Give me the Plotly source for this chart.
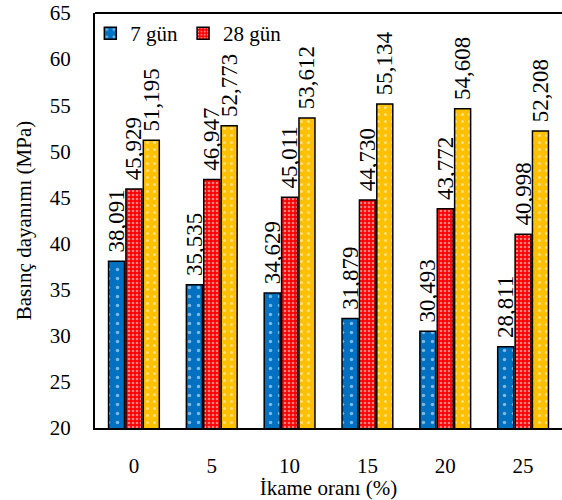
import plotly.graph_objects as go

categories = ["0", "5", "10", "15", "20", "25"]
series_names = ["7 gün", "28 gün", "90 gün"]
values_7 = [38.091, 35.535, 34.629, 31.879, 30.493, 28.811]
values_28 = [45.929, 46.947, 45.011, 44.730, 43.772, 40.998]
values_90 = [51.195, 52.773, 53.612, 55.134, 54.608, 52.208]
y_ticks = [20, 25, 30, 35, 40, 45, 50, 55, 60, 65]

FONT = "Liberation Serif"

def fmt(v):
    return " " + f"{v:.3f}".replace(".", ",")

styles = [
    dict(color="#0070C0", pat=dict(shape=".", fgcolor="white", bgcolor="#0070C0", size=9, solidity=0.12), lw=1.5, show=True),
    dict(color="#FF0000", pat=dict(shape=".", fgcolor="white", bgcolor="#FF0000", size=4, solidity=0.35), lw=1.5, show=True),
    dict(color="#FFC000", pat=dict(shape=".", fgcolor="white", bgcolor="#FFC000", size=7, solidity=0.15), lw=1.5, show=False),
]

fig = go.Figure()
for name, vals, st in zip(series_names, [values_7, values_28, values_90], styles):
    fig.add_trace(go.Bar(
        x=categories, y=vals, name=name, showlegend=st["show"],
        marker=dict(color=st["color"], pattern=st["pat"], line=dict(color="black", width=st["lw"])),
        text=[fmt(v) for v in vals], textposition="outside", textangle=-90,
        textfont=dict(family=FONT, size=23, color="black"),
        constraintext="none",
        cliponaxis=False,
    ))

fig.update_layout(
    width=562, height=500,
    margin=dict(l=95, r=0, t=13, b=72),
    plot_bgcolor="white", paper_bgcolor="white",
    barmode="group", bargap=0.33, bargroupgap=0.08,
    font=dict(family=FONT, size=20, color="black"),
    showlegend=True,
    legend=dict(orientation="h", x=-0.01, y=1.0, xanchor="left", yanchor="top",
                bgcolor="rgba(0,0,0,0)", font=dict(family=FONT, size=21), itemwidth=30,
                tracegroupgap=0),
)
fig.update_xaxes(
    showline=True, linecolor="black", linewidth=2, mirror=False,
    ticks="", tickfont=dict(family=FONT, size=21), ticklabelstandoff=18,
    title=dict(text="İkame oranı (%)", font=dict(family=FONT, size=21), standoff=6),
)
fig.update_yaxes(
    range=[20, 65], tickvals=y_ticks, showgrid=False, zeroline=False,
    showline=True, linecolor="black", linewidth=2,
    ticks="", tickfont=dict(family=FONT, size=21), ticklabelstandoff=18,
    title=dict(text="Basınç dayanımı (MPa)", font=dict(family=FONT, size=21), standoff=12),
)
fig.add_shape(type="line", xref="paper", yref="paper", x0=0, x1=1, y0=1, y1=1,
              line=dict(color="black", width=2))

fig.write_html("out.html")
